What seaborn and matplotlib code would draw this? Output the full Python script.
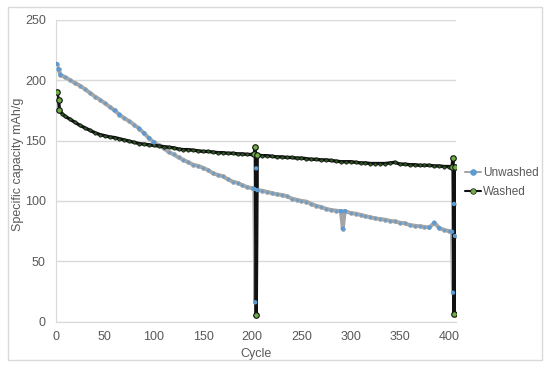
import pandas as pd
import seaborn as sns
import matplotlib
matplotlib.use("Agg")
import matplotlib.pyplot as plt
from matplotlib.patches import Rectangle

# values
unwashed_cycle = [1, 3, 5, 10, 15, 20, 25, 30, 35, 40, 45, 50, 55, 60, 65, 70, 75, 80, 85, 90,
                  95, 100, 105, 110, 115, 120, 125, 130, 135, 140, 145, 150, 155, 160, 165, 170,
                  175, 180, 185, 190, 195, 200, 202, 203, 204, 205, 210, 215, 220, 225, 230, 235,
                  240, 245, 250, 255, 260, 265, 270, 275, 280, 285, 290, 292, 294, 300, 305, 310,
                  315, 320, 325, 330, 335, 340, 345, 350, 355, 360, 365, 370, 375, 380, 385, 390,
                  395, 400, 403, 404, 405, 406]
unwashed_cap = [213.5, 209, 204.5, 202.5, 200, 197.5, 195.5, 192.5, 189.5, 186.5, 184, 181, 178,
                175, 171.5, 168.5, 166, 163, 160, 156, 152, 148.5, 146, 143.5, 140.5, 138.5, 136,
                134, 132, 130, 129, 127.5, 125.5, 123, 121.5, 120.5, 118, 116, 115, 113, 111.5,
                110.5, 110, 16, 127, 109, 108.5, 107.5, 106.5, 105.5, 105, 104, 102, 101, 100,
                99.5, 97.5, 96, 95, 93.5, 92.5, 92, 91.5, 77, 91.5, 90, 89.5, 88.5, 87.5, 86.5,
                85.5, 85, 84.5, 83.5, 83, 82, 81.5, 80, 79.5, 79, 78.5, 78, 82, 77.5, 76, 75,
                74.5, 24, 97.5, 71]

washed_cycle = [1, 3, 4, 7, 10, 15, 20, 25, 30, 35, 40, 45, 50, 55, 60, 65, 70, 75, 80, 85, 90,
                95, 100, 105, 110, 115, 120, 125, 130, 135, 140, 145, 150, 155, 160, 165, 170,
                175, 180, 185, 190, 195, 200, 202, 203, 204, 205, 210, 215, 220, 225, 230, 235,
                240, 245, 250, 255, 260, 265, 270, 275, 280, 285, 290, 295, 300, 305, 310, 315,
                320, 325, 330, 335, 340, 345, 350, 355, 360, 365, 370, 375, 380, 385, 390, 395,
                400, 403, 404, 405, 406]
washed_cap = [190, 184, 175, 172, 170, 167.5, 165, 162.5, 160.5, 158.5, 156.5, 155, 154, 153,
              152.5, 151.5, 150.5, 149.5, 148.5, 147.5, 147, 146.5, 146, 145.5, 145, 144.5, 144,
              143, 142.5, 142.5, 142, 141.5, 141, 141, 140.5, 140, 140, 139.5, 139.5, 139, 139,
              138.5, 138.5, 138.5, 144.5, 5.5, 138, 137.5, 137.5, 137, 136.5, 136.5, 136, 136,
              135.5, 135.5, 135, 134.5, 134.5, 134, 134, 133.5, 133, 132.5, 132.5, 132.5, 132,
              131.5, 131.5, 131, 131, 131, 131, 131.5, 132, 130.5, 130.5, 130, 130, 129.5, 129.5,
              129.5, 129, 129, 128.5, 128.5, 128, 135.5, 6.5, 128.5]

unwashed = pd.DataFrame({"Cycle": unwashed_cycle, "Capacity": unwashed_cap})
washed = pd.DataFrame({"Cycle": washed_cycle, "Capacity": washed_cap})


def lone_points(df, tol=3):
    # points that stand apart from the band show as separate markers
    c = df["Capacity"]
    d = pd.concat([(c - c.shift(1)).abs(), (c - c.shift(-1)).abs()], axis=1).max(axis=1)
    return df[d > tol]


sns.set_style("white")
plt.rcParams["font.family"] = ["Liberation Sans", "DejaVu Sans"]
text_color = "#595959"
grid_color = "#D9D9D9"

fig = plt.figure(figsize=(5.5, 3.68), dpi=100)
ax = fig.add_axes([0.101, 0.126, 0.728, 0.82])

sns.lineplot(data=unwashed, x="Cycle", y="Capacity", ax=ax, sort=False, estimator=None,
             color="#A5A5A5", linewidth=2.8, marker="o", markersize=2.6,
             markerfacecolor="#5B9BD5", markeredgecolor="#A5A5A5", markeredgewidth=0.7,
             label="Unwashed")
sns.scatterplot(data=lone_points(unwashed), x="Cycle", y="Capacity", ax=ax, s=10,
                color="#5B9BD5", edgecolor="none", zorder=3)
sns.lineplot(data=washed, x="Cycle", y="Capacity", ax=ax, sort=False, estimator=None,
             color="#111111", linewidth=2.4, marker="o", markersize=2.4,
             markerfacecolor="#2F5E22", markeredgecolor="#111111", markeredgewidth=0.5,
             label="Washed")
sns.scatterplot(data=lone_points(washed), x="Cycle", y="Capacity", ax=ax, s=16,
                color="#70AD47", edgecolor="#111111", linewidth=0.8, zorder=4)

ax.set_xlim(0, 407)
ax.set_ylim(0, 250)
ax.set_xticks(range(0, 401, 50))
ax.set_yticks(range(0, 251, 50))
ax.grid(axis="y", color=grid_color, linewidth=1)
ax.set_axisbelow(True)
for s in ["top", "right"]:
    ax.spines[s].set_visible(False)
for s in ["left", "bottom"]:
    ax.spines[s].set_color(grid_color)
ax.tick_params(length=0, labelsize=9, colors=text_color, pad=7)
ax.set_xlabel("Cycle", fontsize=9, color=text_color, labelpad=3)
ax.set_ylabel("Specific capacity mAh/g", fontsize=9, color=text_color)
ax.yaxis.set_label_coords(-0.078, 0.52)

leg = ax.legend(loc="center left", bbox_to_anchor=(0.826, 0.504),
                bbox_transform=fig.transFigure, frameon=False, fontsize=8.5,
                handlelength=1.4, handletextpad=0.15, labelspacing=0.55)
for t, h in zip(leg.get_texts(), leg.legend_handles):
    t.set_color(text_color)
    h.set_linewidth(1.5)
    h.set_markersize(4)
leg.legend_handles[0].set_markeredgecolor("#5B9BD5")
leg.legend_handles[1].set_markerfacecolor("#70AD47")

fig.patches.append(Rectangle((0.0145, 0.0217), 0.971, 0.959, transform=fig.transFigure,
                             fill=False, edgecolor=grid_color, linewidth=1))

fig.savefig("out.png", dpi=100)
